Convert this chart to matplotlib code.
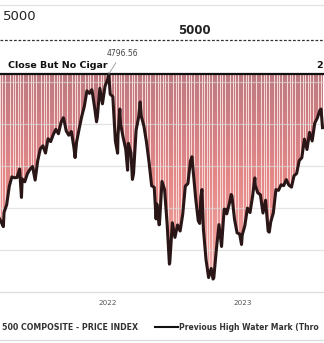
import numpy as np
import pandas as pd
import matplotlib
matplotlib.use("Agg")
import matplotlib.pyplot as plt
import matplotlib.dates as mdates
from matplotlib.path import Path
from matplotlib.patches import PathPatch
from matplotlib.colors import LinearSegmentedColormap

# weekly closes, S&P 500, from 12 Mar 2021 (Fridays)
weekly_close = [
    3943, 3913, 3974, 4019, 4128, 4185, 4180, 4181, 4232, 4173, 4156, 4204,
    4230, 4247, 4166, 4281, 4352, 4370, 4327, 4412, 4395, 4437, 4468, 4442,
    4509, 4535, 4459, 4433, 4455, 4357, 4391, 4471, 4545, 4605, 4697, 4682,
    4698, 4595, 4538, 4712, 4620, 4725, 4766,
    # 2022
    4677, 4663, 4398, 4432, 4501, 4419, 4349, 4385, 4329, 4204, 4463, 4543,
    4546, 4488, 4393, 4272, 4132, 4123, 4024, 3901, 4158, 4109, 3901, 3675,
    3912, 3825, 3899, 3863, 3962, 4130, 4145, 4280, 4228, 4058, 3924, 4067,
    3873, 3693, 3586, 3640, 3583, 3753, 3901, 3771, 3993, 3965, 4026, 4072,
    3934, 3852, 3845, 3840,
    # 2023
    3895, 3999, 3973, 4071, 4136, 4090, 4079, 3970, 4046, 3862, 3917, 3971,
    4109, 4105, 4138, 4133, 4169, 4136, 4124, 4192, 4205, 4282, 4299, 4410,
    4348, 4450, 4399, 4505, 4536, 4582, 4478,
]
weekly_dates = pd.date_range("2021-03-12", periods=len(weekly_close), freq="W-FRI")

# swing points inside the weeks
swing_dates = [
    "2021-03-24", "2021-05-12", "2021-09-02", "2021-10-04", "2021-11-18",
    "2021-12-01", "2022-01-03", "2022-01-27", "2022-02-02", "2022-02-23",
    "2022-03-08", "2022-03-29", "2022-05-11", "2022-05-19", "2022-06-16",
    "2022-08-16", "2022-09-06", "2022-09-12", "2022-10-12", "2022-11-15",
    "2022-11-30", "2022-12-28", "2023-02-02", "2023-03-13", "2023-07-31",
]
swing_close = [
    3889, 4063, 4537, 4300, 4704,
    4513, 4796.56, 4326, 4589, 4225,
    4170, 4631, 3935, 3900, 3666,
    4305, 3908, 4110, 3577, 3992,
    4080, 3783, 4179, 3856, 4589,
]

high_mark = 4796.56
target = 5000
year_ticks = ["2022", "2023"]

s = pd.concat([pd.Series(weekly_close, index=weekly_dates),
               pd.Series(swing_close, index=pd.to_datetime(swing_dates))]).sort_index()

fig = plt.figure(figsize=(3.24, 3.43), dpi=100)
W, H = 324, 343

def fx(px):
    return px / W

def fy(py):
    return 1 - py / H

ax = fig.add_axes([0, fy(292), 1, (292 - 5) / H])
x0 = mdates.date2num(pd.Timestamp("2021-03-15"))
x1 = mdates.date2num(pd.Timestamp("2023-08-08"))
ymin, ymax = 3500, 5208
sx = mdates.date2num(s.index)

# pale fill behind the bars (the gaps are light pink, not white)
ax.fill_between(sx, s.values, high_mark, color="#f6d8d6", lw=0, zorder=0.5)

# gradient bars between price and the high water mark
bx = mdates.date2num(weekly_dates)
bw = 4.8
verts, codes = [], []
for x, v in zip(bx, weekly_close):
    verts += [(x - bw / 2, v), (x + bw / 2, v), (x + bw / 2, high_mark),
              (x - bw / 2, high_mark), (x - bw / 2, v)]
    codes += [Path.MOVETO, Path.LINETO, Path.LINETO, Path.LINETO, Path.CLOSEPOLY]
clip = PathPatch(Path(verts, codes), transform=ax.transData,
                 facecolor="none", edgecolor="none")
ax.add_patch(clip)

cmap = LinearSegmentedColormap.from_list(
    "bars", ["#f2b4b0", "#ec9a97", "#e48888", "#d18085", "#bc7a80"])
grad = np.linspace(0, 1, 256).reshape(-1, 1)
im = ax.imshow(grad, extent=[x0, x1, 3550, high_mark], origin="lower",
               aspect="auto", cmap=cmap, zorder=1)
im.set_clip_path(clip)

for g in [3750, 4000, 4250, 4500, 4750]:
    ax.axhline(g, color="#d8d8d8", lw=0.9, alpha=0.7, zorder=2)

ax.plot(sx, s.values, color="#2a1616", lw=2.2,
        solid_joinstyle="round", zorder=4)
ax.axhline(high_mark, color="#111111", lw=1.6, zorder=5)
ax.axhline(target, color="#333333", lw=0.9, dashes=(2.2, 1.4), zorder=5)

ax.set_xlim(x0, x1)
ax.set_ylim(ymin, ymax)
ax.set_xticks([])
ax.set_yticks([])
for side in ["left", "right"]:
    ax.spines[side].set_visible(False)
ax.spines["top"].set_color("#e2e2e2")
ax.spines["bottom"].set_color("#dddddd")
ax.spines["top"].set_linewidth(0.9)
ax.spines["bottom"].set_linewidth(0.9)

peak_x = mdates.date2num(pd.Timestamp("2022-01-03"))
ax.annotate("4796.56", xy=(peak_x, high_mark), xytext=(fx(122), fy(53)),
            textcoords="figure fraction", ha="center", va="center",
            fontsize=5.5, color="#444444",
            arrowprops=dict(arrowstyle="-", color="#999999", lw=0.6,
                            shrinkA=2, shrinkB=0), zorder=6)

font = "DejaVu Sans"
fig.text(fx(3), fy(16), "5000", fontsize=9.5, color="#222222",
         ha="left", va="center", family=font)
fig.text(fx(194), fy(31), "5000", fontsize=8.5, fontweight="bold",
         color="#222222", ha="center", va="center", family=font)
fig.text(fx(8), fy(65), "Close But No Cigar", fontsize=6.8,
         fontweight="bold", color="#111111", ha="left", va="center", family=font)
fig.text(fx(316), fy(66), "2", fontsize=6.8, fontweight="bold",
         color="#111111", ha="left", va="center", family=font)

for lab, px in zip(year_ticks, [108, 243]):
    fig.text(fx(px), fy(303), lab, fontsize=5.2, color="#555555",
             ha="center", va="center", family=font)

fig.text(fx(2), fy(327), "500 COMPOSITE - PRICE INDEX", fontsize=5.7,
         fontweight="bold", color="#333333", ha="left", va="center", family=font)
fig.add_artist(plt.Line2D([fx(155), fx(178)], [fy(327), fy(327)],
                          color="#111111", lw=1.5))
fig.text(fx(179), fy(327), "Previous High Water Mark (Thro",
         fontsize=5.5, fontweight="bold", color="#333333",
         ha="left", va="center", family=font)
fig.add_artist(plt.Line2D([0, 1], [fy(340), fy(340)], color="#dddddd", lw=0.9))

fig.savefig("out.png", dpi=100)
